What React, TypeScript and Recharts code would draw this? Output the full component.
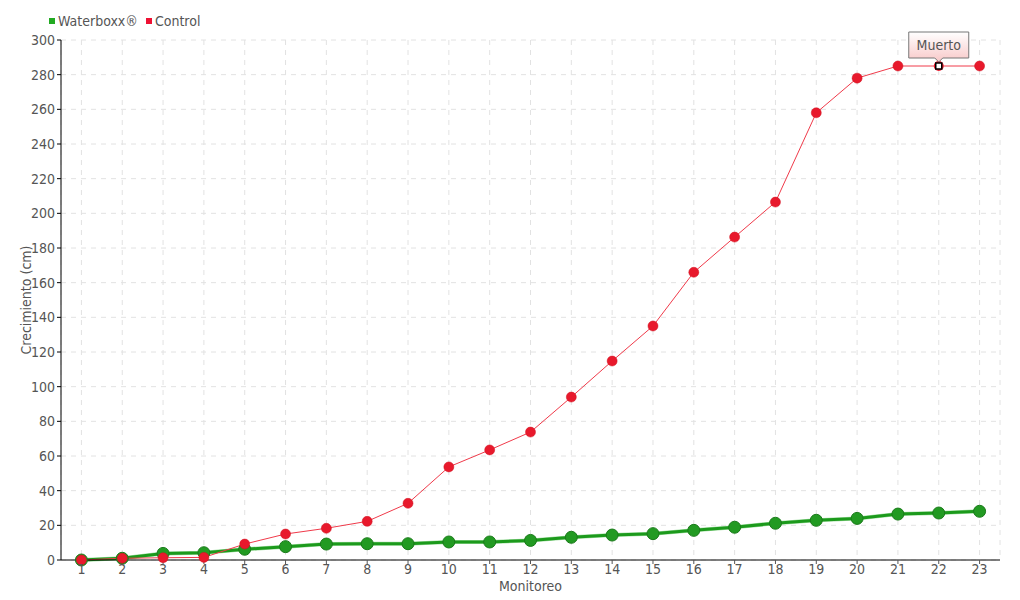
import React from "react";
import { LineChart, Line, XAxis, YAxis, CartesianGrid, Label } from "recharts";

const monitoreo = [1, 2, 3, 4, 5, 6, 7, 8, 9, 10, 11, 12, 13, 14, 15, 16, 17, 18, 19, 20, 21, 22, 23];
const waterboxx = [0, 1, 3.8, 4.2, 6.2, 7.7, 9.2, 9.4, 9.4, 10.4, 10.4, 11.3, 13.1, 14.4, 15.2, 17.1, 18.9, 21.2, 22.9, 24, 26.5, 27.1, 28.1];
const control = [0, 1, 1.3, 1.5, 9.2, 15, 18.3, 22.3, 32.7, 53.7, 63.5, 73.8, 94, 114.8, 135, 166, 186.3, 206.5, 258, 278, 285, 285, 285];
const yTicks = [0, 20, 40, 60, 80, 100, 120, 140, 160, 180, 200, 220, 240, 260, 280, 300];
const annotations = [{ index: 21, text: "Muerto" }];

const data = monitoreo.map((m, i) => ({ m, waterboxx: waterboxx[i], control: control[i] }));

const FONT = "'DejaVu Sans Condensed', 'Liberation Sans Narrow', 'DejaVu Sans', sans-serif";
const TEXT = "#555";

const ControlDot = (props: any) => {
  const { cx, cy, index } = props;
  const ann = annotations.find((a) => a.index === index);
  if (ann) {
    const w = 60;
    const h = 26;
    const by = cy - 8 - h;
    return (
      <g key={`cd-${index}`}>
        <defs>
          <linearGradient id="annGrad" x1="0" y1="0" x2="0" y2="1">
            <stop offset="0%" stopColor="#ffffff" />
            <stop offset="100%" stopColor="#f8c8c8" />
          </linearGradient>
        </defs>
        <circle cx={cx} cy={cy} r={5} fill="#e8192c" />
        <path
          d={`M${cx - w / 2},${by} H${cx + w / 2} V${by + h} H${cx + 4} L${cx},${by + h + 4} L${cx - 4},${by + h} H${cx - w / 2} Z`}
          fill="url(#annGrad)"
          stroke="#777"
          strokeWidth={1}
        />
        <text x={cx} y={by + h / 2 + 5} textAnchor="middle" fontFamily={FONT} fontSize={14} fill={TEXT}>
          {ann.text}
        </text>
        <rect x={cx - 3} y={cy - 3} width={6} height={6} fill="#fff" stroke="#000" strokeWidth={1.5} />
      </g>
    );
  }
  return <circle key={`cd-${index}`} cx={cx} cy={cy} r={5} fill="#e8192c" stroke="#d0101f" strokeWidth={0.5} />;
};

export default function App() {
  return (
    <div style={{ position: "relative", width: 1004, height: 590 }}>
      <div
        style={{
          position: "absolute",
          left: 41,
          top: 5,
          fontFamily: FONT,
          fontSize: 14,
          color: TEXT,
          display: "flex",
          alignItems: "center",
          gap: 8,
        }}
      >
        <span style={{ display: "flex", alignItems: "center" }}>
          <span style={{ width: 6, height: 6, background: "#22aa22", display: "inline-block", marginRight: 3 }} />
          Waterboxx®
        </span>
        <span style={{ display: "flex", alignItems: "center" }}>
          <span style={{ width: 6, height: 6, background: "#ee1133", display: "inline-block", marginRight: 3 }} />
          Control
        </span>
      </div>
      <LineChart width={1004} height={590} data={data} margin={{ top: 32, right: 12, left: 0, bottom: 0 }}>
        <CartesianGrid stroke="#e2e2e2" strokeDasharray="5 5" />
        <XAxis
          dataKey="m"
          type="number"
          domain={[0.5, 23.5]}
          ticks={monitoreo}
          interval={0}
          height={38}
          stroke="#000"
          tickSize={4}
          tickMargin={0}
          tick={{ fontFamily: FONT, fontSize: 14, fill: TEXT }}
          tickLine={{ stroke: "#555" }}
        >
          <Label value="Monitoreo" position="insideBottom" offset={7} style={{ fontFamily: FONT, fontSize: 14, fill: TEXT }} />
        </XAxis>
        <YAxis
          domain={[0, 300]}
          ticks={yTicks}
          interval={0}
          width={53}
          stroke="#000"
          tickSize={4}
          tick={{ fontFamily: FONT, fontSize: 14, fill: TEXT }}
          tickLine={{ stroke: "#000" }}
        >
          <Label
            value="Crecimiento (cm)"
            angle={-90}
            position="insideLeft"
            offset={18}
            style={{ fontFamily: FONT, fontSize: 14, fill: TEXT, textAnchor: "middle" }}
          />
        </YAxis>
        <Line
          dataKey="waterboxx"
          stroke="#a8e0a8"
          strokeWidth={4}
          dot={false}
          activeDot={false}
          isAnimationActive={false}
          legendType="none"
        />
        <Line
          dataKey="waterboxx"
          stroke="#1c9a1c"
          strokeWidth={3}
          dot={{ r: 6, fill: "#229a22", stroke: "#1a7a1a", strokeWidth: 1 }}
          isAnimationActive={false}
        />
        <Line
          dataKey="control"
          stroke="#f03a4a"
          strokeWidth={1}
          dot={<ControlDot />}
          isAnimationActive={false}
        />
      </LineChart>
    </div>
  );
}
